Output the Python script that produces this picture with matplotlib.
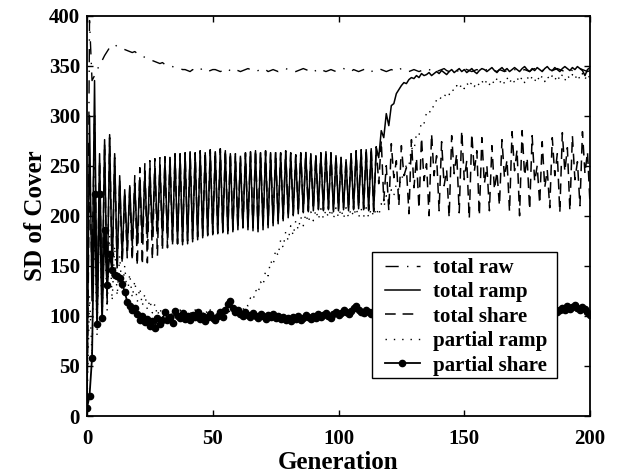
import matplotlib
matplotlib.use("Agg")
import matplotlib.pyplot as plt
from matplotlib.patches import Rectangle

generations = list(range(0, 201))

total_raw = [
    10, 395, 335, 340, 346, 350, 355, 360, 364, 368,
    370, 371, 369, 368, 367, 366, 365, 364, 363, 364,
    362, 361, 360, 358, 357, 356, 355, 354, 353, 352,
    353, 351, 350, 350, 349, 348, 347, 347, 346, 346,
    345, 344, 346, 345, 344, 346, 347, 345, 344, 345,
    346, 346, 345, 344, 345, 347, 346, 345, 344, 346,
    345, 344, 345, 346, 347, 346, 345, 344, 345, 346,
    347, 346, 344, 345, 346, 345, 344, 345, 346, 347,
    346, 345, 344, 344, 345, 346, 347, 346, 345, 346,
    344, 345, 346, 347, 345, 344, 345, 346, 345, 344,
    345, 346, 347, 346, 345, 344, 346, 345, 344, 345,
    346, 347, 345, 344, 345, 346, 347, 346, 345, 344,
    345, 346, 345, 344, 346, 347, 346, 345, 344, 345,
    346, 345, 344, 345, 346, 347, 346, 345, 346, 344,
    345, 346, 347, 345, 344, 345, 346, 345, 344, 346,
    347, 346, 345, 344, 345, 346, 345, 344, 345, 346,
    347, 346, 345, 344, 346, 345, 344, 345, 346, 347,
    346, 345, 344, 345, 346, 345, 344, 346, 347, 345,
    344, 345, 346, 345, 344, 345, 346, 347, 346, 345,
    344, 345, 346, 345, 344, 346, 347, 346, 345, 344,
    345]

total_ramp = [
    10, 300, 115, 335, 100, 262, 112, 276, 118, 281,
    140, 262, 148, 240, 158, 226, 166, 230, 170, 232,
    172, 238, 175, 242, 178, 246, 180, 249, 182, 251,
    178, 255, 176, 258, 174, 260, 172, 261, 171, 262,
    172, 263, 174, 262, 176, 264, 178, 263, 180, 265,
    181, 264, 182, 266, 183, 265, 182, 262, 184, 260,
    186, 258, 188, 262, 186, 264, 185, 265, 184, 263,
    186, 264, 188, 262, 190, 263, 192, 262, 195, 264,
    198, 262, 200, 260, 202, 262, 203, 263, 204, 261,
    205, 260, 206, 262, 205, 264, 206, 262, 204, 260,
    205, 258, 206, 256, 205, 262, 206, 264, 207, 265,
    206, 266, 205, 267, 204, 268, 258, 285, 278, 302,
    290, 310, 312, 322, 326, 330, 333, 332, 336, 338,
    337, 340, 338, 342, 340, 341, 343, 340, 342, 344,
    342, 345, 343, 341, 344, 346, 343, 345, 347, 344,
    346, 343, 345, 347, 344, 342, 345, 347, 346, 344,
    346, 348, 345, 343, 346, 348, 345, 347, 344, 346,
    348, 346, 344, 347, 349, 346, 344, 347, 345, 348,
    346, 344, 347, 349, 346, 345, 348, 346, 344, 347,
    349, 347, 345, 348, 346, 349, 347, 345, 340, 346,
    348]

total_share = [
    10, 250, 140, 300, 95, 255, 105, 272, 112, 278,
    145, 258, 147, 236, 152, 224, 158, 228, 155, 240,
    150, 248, 151, 252, 153, 255, 156, 257, 160, 258,
    165, 259, 168, 261, 170, 262, 172, 262, 174, 263,
    175, 264, 177, 263, 179, 265, 180, 264, 181, 266,
    182, 265, 183, 267, 184, 266, 185, 263, 186, 262,
    187, 260, 188, 263, 189, 265, 188, 266, 187, 264,
    189, 265, 191, 263, 193, 264, 195, 263, 197, 265,
    199, 263, 201, 261, 203, 263, 204, 264, 205, 262,
    206, 261, 207, 263, 206, 265, 207, 263, 205, 261,
    206, 259, 207, 257, 206, 263, 207, 265, 208, 266,
    207, 267, 206, 268, 205, 269, 232, 275, 215, 250,
    205, 272, 238, 255, 210, 270, 240, 248, 202, 276,
    228, 258, 207, 278, 235, 252, 200, 282, 240, 260,
    205, 274, 230, 246, 198, 280, 242, 262, 203, 285,
    236, 255, 197, 282, 244, 265, 200, 278, 232, 250,
    205, 270, 226, 244, 210, 276, 238, 256, 204, 284,
    245, 266, 200, 285, 240, 258, 206, 280, 234, 250,
    212, 274, 228, 246, 208, 278, 240, 262, 203, 283,
    244, 268, 205, 280, 236, 254, 210, 284, 242, 264,
    212]

partial_ramp = [
    10, 120, 60, 190, 80, 200, 95, 190, 105, 180,
    115, 170, 120, 160, 122, 150, 120, 142, 118, 135,
    114, 128, 110, 122, 106, 116, 103, 112, 100, 108,
    98, 106, 99, 105, 100, 104, 101, 106, 100, 105,
    99, 104, 101, 106, 100, 105, 102, 107, 101, 106,
    100, 105, 102, 108, 103, 107, 102, 106, 103, 108,
    104, 108, 106, 112, 110, 118, 115, 126, 122, 134,
    130, 145, 140, 155, 150, 166, 160, 176, 168, 184,
    175, 190, 180, 195, 186, 199, 190, 202, 193, 204,
    195, 206, 196, 207, 197, 206, 198, 207, 197, 208,
    198, 207, 197, 208, 198, 207, 199, 208, 198, 207,
    199, 208, 198, 207, 199, 208, 200, 212, 208, 220,
    215, 226, 220, 232, 226, 240, 236, 252, 250, 268,
    265, 282, 280, 294, 292, 303, 301, 310, 308, 316,
    314, 320, 318, 324, 321, 327, 324, 330, 326, 332,
    327, 333, 328, 334, 329, 334, 330, 335, 330, 336,
    331, 336, 331, 337, 332, 337, 332, 338, 332, 338,
    333, 338, 333, 339, 333, 339, 334, 339, 334, 340,
    334, 340, 334, 340, 335, 340, 335, 341, 335, 341,
    335, 341, 336, 341, 336, 342, 336, 342, 336, 342,
    337]

partial_share = [
    8, 20, 58, 222, 92, 222, 98, 186, 131, 162,
    146, 141, 140, 138, 132, 124, 114, 110, 106, 108,
    102, 96, 100, 94, 97, 90, 95, 88, 98, 92,
    96, 104, 96, 99, 93, 105, 100, 98, 103, 97,
    100, 96, 101, 99, 104, 97, 100, 95, 99, 102,
    98, 96, 100, 104, 99, 106, 112, 115, 108, 104,
    106, 102, 100, 104, 101, 99, 103, 100, 98, 102,
    100, 97, 101, 99, 102, 98, 100, 97, 99, 96,
    98, 95, 99, 97, 100, 96, 98, 101, 99, 97,
    100, 98, 102, 99, 101, 103, 100, 98, 102, 104,
    101, 103, 106, 104, 102, 105, 108, 110, 106, 104,
    103, 106, 104, 102, 105, 103, 106, 108, 104, 102,
    105, 103, 101, 104, 106, 103, 105, 107, 104, 102,
    104, 106, 103, 105, 107, 104, 102, 105, 103, 106,
    104, 102, 105, 107, 104, 103, 106, 104, 102, 105,
    103, 106, 104, 102, 105, 107, 104, 103, 106, 104,
    102, 105, 103, 106, 104, 102, 105, 107, 104, 103,
    106, 104, 102, 105, 103, 106, 104, 102, 105, 107,
    104, 103, 106, 104, 103, 105, 107, 104, 106, 108,
    106, 110, 107, 109, 111, 108, 106, 109, 107, 104,
    101]

series_labels = ["total raw", "total ramp", "total share", "partial ramp", "partial share"]
x_ticks = [0, 50, 100, 150, 200]
y_ticks = [0, 50, 100, 150, 200, 250, 300, 350, 400]

plt.rcParams['font.family'] = ['Liberation Serif', 'DejaVu Serif']
plt.rcParams['font.weight'] = 'bold'

fig = plt.figure(figsize=(6.18, 4.74), dpi=100)
ax = fig.add_axes([87/618, 1 - 416/474, (590-87)/618, (416-15.5)/474])

ax.plot(generations, total_raw, color='black', lw=1.0, dashes=(9.5, 6, 1, 6), label=series_labels[0])
ax.plot(generations, total_ramp, color='black', lw=1.1, linestyle='-', label=series_labels[1])
ax.plot(generations, total_share, color='black', lw=1.1, dashes=(7, 4.5), label=series_labels[2])
ax.plot(generations, partial_ramp, color='black', lw=1.0, dashes=(1, 5), label=series_labels[3])
ax.plot(generations, partial_share, color='black', lw=1.3, linestyle='-', marker='o',
        markersize=4.5, markerfacecolor='black', markeredgecolor='black', label=series_labels[4])

ax.set_xlim(0, 200)
ax.set_ylim(0, 400)
ax.set_xticks(x_ticks)
ax.set_yticks(y_ticks)
ax.tick_params(direction='in', length=4, width=1, top=True, right=True, labelsize=15)
ax.tick_params(axis='x', pad=9)
ax.tick_params(axis='y', pad=5)
for lbl in ax.get_xticklabels() + ax.get_yticklabels():
    lbl.set_fontweight('bold')
for sp in ax.spines.values():
    sp.set_linewidth(1.3)

ax.set_xlabel("Generation", fontsize=18, fontweight='bold', labelpad=1.5)
ax.set_ylabel("SD of Cover", fontsize=18, fontweight='bold', labelpad=1)

# legend frame drawn as a plain box, contents placed inside it
frame = Rectangle((0.5666, 0.0949), 0.9344 - 0.5666, 0.4095 - 0.0949, transform=ax.transAxes,
                  facecolor='white', edgecolor='black', linewidth=1.0, zorder=4)
ax.add_patch(frame)
leg = ax.legend(loc='upper left', bbox_to_anchor=(0.5924, 0.3945), borderaxespad=0,
                fontsize=15, handlelength=1.68, handletextpad=0.62, labelspacing=0.21,
                borderpad=0.0, frameon=False)
leg.set_zorder(5)
for t in leg.get_texts():
    t.set_fontweight('bold')

fig.savefig("out.png", dpi=100)
